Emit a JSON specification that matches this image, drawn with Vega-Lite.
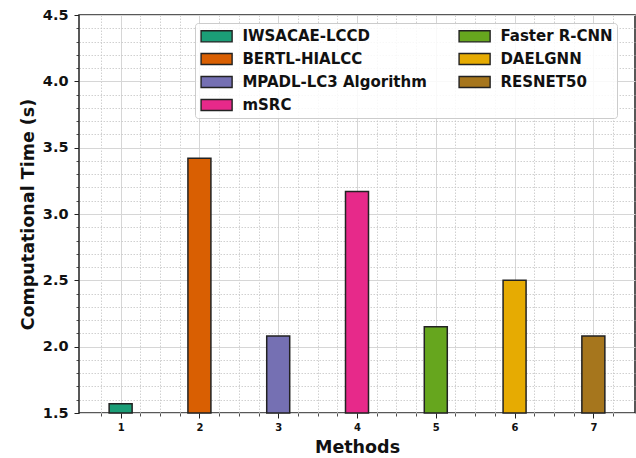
{
  "$schema": "https://vega.github.io/schema/vega-lite/v6.json",
  "width": 556,
  "height": 398,
  "autosize": {"type": "none"},
  "padding": {"left": 79, "top": 15, "right": 1, "bottom": 45},
  "background": "white",
  "config": {
    "view": {"stroke": "#222", "strokeWidth": 1.5},
    "font": "DejaVu Sans",
    "axis": {"labelFont": "DejaVu Sans", "titleFont": "DejaVu Sans", "labelFontWeight": "bold", "titleFontWeight": "bold", "labelColor": "#111", "titleColor": "#111", "tickColor": "#222"}
  },
  "data": {
    "values": [
      {"method": 1, "name": "IWSACAE-LCCD", "time": 1.57},
      {"method": 2, "name": "BERTL-HIALCC", "time": 3.42},
      {"method": 3, "name": "MPADL-LC3 Algorithm", "time": 2.08},
      {"method": 4, "name": "mSRC", "time": 3.17},
      {"method": 5, "name": "Faster R-CNN", "time": 2.15},
      {"method": 6, "name": "DAELGNN", "time": 2.5},
      {"method": 7, "name": "RESNET50", "time": 2.08}
    ]
  },
  "layer": [
    {
      "mark": {"type": "bar", "opacity": 0, "width": 22},
      "encoding": {
        "x": {
          "field": "method", "type": "quantitative",
          "scale": {"domain": [0.535, 7.465], "nice": false, "zero": false},
          "axis": {
            "orient": "bottom", "title": null, "labels": false, "domain": false,
            "values": [0.75, 1.25, 1.5, 1.75, 2.25, 2.5, 2.75, 3.25, 3.5, 3.75, 4.25, 4.5, 4.75, 5.25, 5.5, 5.75, 6.25, 6.5, 6.75, 7.25],
            "grid": true, "gridColor": "#c4c4c4", "gridDash": [1.5, 1.5], "gridWidth": 0.8,
            "ticks": true, "tickSize": 3, "tickWidth": 0.8
          }
        },
        "y": {
          "field": "time", "type": "quantitative",
          "scale": {"domain": [1.5, 4.5], "nice": false, "zero": false},
          "axis": {
            "orient": "left", "title": null, "labels": false, "domain": false,
            "values": [1.6, 1.7, 1.8, 1.9, 2.1, 2.2, 2.3, 2.4, 2.6, 2.7, 2.8, 2.9, 3.1, 3.2, 3.3, 3.4, 3.6, 3.7, 3.8, 3.9, 4.1, 4.2, 4.3, 4.4],
            "grid": true, "gridColor": "#c4c4c4", "gridDash": [1.5, 1.5], "gridWidth": 0.8,
            "ticks": true, "tickSize": 3, "tickWidth": 0.8
          }
        }
      }
    },
    {
      "mark": {"type": "bar", "width": 23, "stroke": "#222", "strokeWidth": 1.5},
      "encoding": {
        "x": {
          "field": "method", "type": "quantitative",
          "scale": {"domain": [0.535, 7.465], "nice": false, "zero": false},
          "axis": {
            "orient": "bottom", "title": "Methods", "values": [1, 2, 3, 4, 5, 6, 7], "format": "d",
            "domain": false, "grid": true, "gridColor": "#d6d6d6", "gridWidth": 1,
            "tickSize": 5, "labelFontSize": 10, "labelPadding": 4,
            "titleFontSize": 17.5, "titlePadding": 6
          }
        },
        "y": {
          "field": "time", "type": "quantitative",
          "scale": {"domain": [1.5, 4.5], "nice": false, "zero": false},
          "axis": {
            "orient": "left", "title": "Computational Time (s)", "values": [1.5, 2.0, 2.5, 3.0, 3.5, 4.0, 4.5], "format": ".1f",
            "domain": false, "grid": true, "gridColor": "#d6d6d6", "gridWidth": 1,
            "tickSize": 5, "labelFontSize": 14.5, "labelPadding": 6,
            "titleFontSize": 17.5, "titlePadding": 5
          }
        },
        "y2": {"datum": 1.5},
        "color": {
          "field": "name", "type": "nominal",
          "scale": {
            "domain": ["IWSACAE-LCCD", "BERTL-HIALCC", "MPADL-LC3 Algorithm", "mSRC", "Faster R-CNN", "DAELGNN", "RESNET50"],
            "range": ["#1b9e77", "#d95f02", "#7570b3", "#e7298a", "#66a61e", "#e6ab02", "#a6761d"]
          },
          "legend": {
            "title": null, "orient": "none", "legendX": 116, "legendY": 8, "columns": 2,
            "symbolType": "M-1.94,-0.69L1.94,-0.69L1.94,0.69L-1.94,0.69Z", "symbolSize": 256,
            "symbolStrokeColor": "#222", "symbolStrokeWidth": 1.4, "symbolOpacity": 1,
            "symbolOffset": 8.6, "labelOffset": 16.8, "labelLimit": 300,
            "labelFont": "DejaVu Sans", "labelFontWeight": "bold", "labelFontSize": 15, "labelColor": "#111",
            "rowPadding": 5, "columnPadding": 29, "padding": 4,
            "strokeColor": "#cccccc", "fillColor": "rgba(255,255,255,0.85)", "cornerRadius": 3
          }
        }
      }
    }
  ],
  "resolve": {"axis": {"x": "independent", "y": "independent"}}
}
